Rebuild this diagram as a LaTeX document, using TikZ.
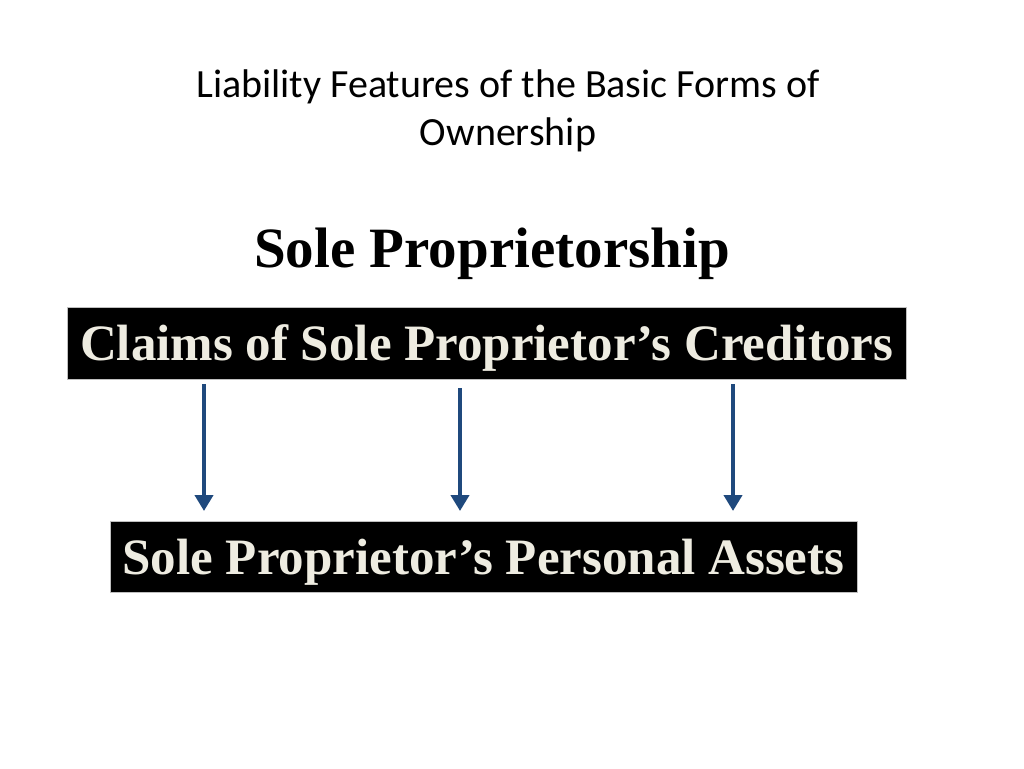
\documentclass[tikz,border=0pt]{standalone}
\usepackage{fontspec}
\setmainfont{Liberation Serif}
\newfontfamily\titlefont{Carlito}
\definecolor{arrowblue}{RGB}{31, 73, 125}
\definecolor{cream}{RGB}{238, 236, 225}
\usetikzlibrary{arrows.meta, positioning}

\begin{document}
\begin{tikzpicture}[x=1pt, y=-1pt,
    claimbox/.style={draw=black!25, fill=black, text=cream, inner sep=0pt, text depth=0pt, font=\fontsize{51}{56}\selectfont\bfseries},
    down/.style={draw=arrowblue, line width=4pt, -{Triangle[width=18pt, length=16pt]}}]
  \useasboundingbox[fill=white] (0,0) rectangle (1024,768);
  \node[align=center, font=\titlefont\fontsize{40}{48}\selectfont] (title) at (508,111)
    {Liability Features of the Basic Forms of\\Ownership};
  \node[font=\fontsize{57}{62}\selectfont\bfseries] (form) at (492,254) {Sole Proprietorship};
  \node[claimbox, minimum width=839pt, minimum height=72pt] (creditors) at (486.5,343)
    {Claims of Sole Proprietor’s Creditors};
  \node[claimbox, minimum width=747pt, minimum height=71pt] (assets) at (483.5,556.5)
    {Sole Proprietor’s Personal Assets};
  % arrow ends
  \coordinate (top1) at (204,384);
  \coordinate (top2) at (460,388);
  \coordinate (top3) at (733,384);
  \draw[down] (top1) -- (top1 |- 0,511);
  \draw[down] (top2) -- (top2 |- 0,511);
  \draw[down] (top3) -- (top3 |- 0,511);
\end{tikzpicture}
\end{document}
